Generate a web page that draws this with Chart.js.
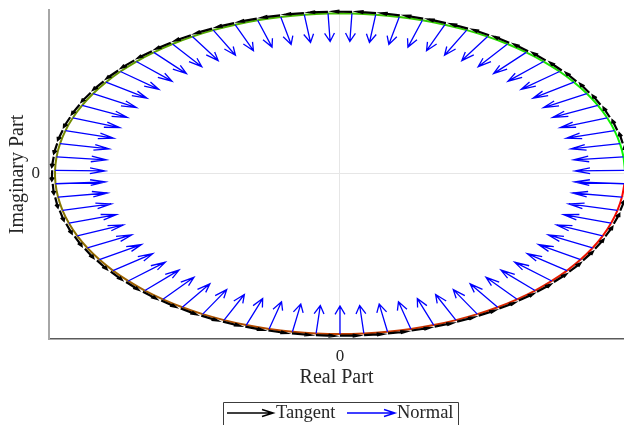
<!DOCTYPE html>
<html>
<head>
<meta charset="utf-8">
<script src="https://cdn.jsdelivr.net/npm/chart.js@4/dist/chart.umd.min.js"></script>
<style>
html,body{margin:0;padding:0;background:#fff;overflow:hidden}
canvas{display:block}
</style>
</head>
<body>
<canvas id="c" width="624" height="425"></canvas>
<script>
// ---- data (curve sample points in the complex plane) ----
const realPart = [
  0.9998, 0.9945, 0.9823, 0.9632, 0.9373, 0.9048, 0.8660, 0.8211, 0.7705, 0.7145,
  0.6534, 0.5878, 0.5180, 0.4446, 0.3681, 0.2890, 0.2079, 0.1253, 0.0419,
  -0.0419, -0.1253, -0.2079, -0.2890, -0.3681, -0.4446, -0.5180, -0.5878, -0.6534, -0.7145,
  -0.7705, -0.8211, -0.8660, -0.9048, -0.9373, -0.9632, -0.9823, -0.9945, -0.9998,
  -0.9980, -0.9893, -0.9736, -0.9511, -0.9219, -0.8862, -0.8443, -0.7965, -0.7431, -0.6845,
  -0.6211, -0.5534, -0.4818, -0.4067, -0.3289, -0.2487, -0.1668, -0.0837, 0,
  0.0837, 0.1668, 0.2487, 0.3289, 0.4067, 0.4818, 0.5534, 0.6211, 0.6845,
  0.7431, 0.7965, 0.8443, 0.8862, 0.9219, 0.9511, 0.9736, 0.9893, 0.9980
];
const imagPart = [
  0.0209, 0.1045, 0.1874, 0.2689, 0.3486, 0.4258, 0.5000, 0.5707, 0.6374, 0.6997,
  0.7570, 0.8090, 0.8554, 0.8957, 0.9298, 0.9573, 0.9781, 0.9921, 0.9991,
  0.9991, 0.9921, 0.9781, 0.9573, 0.9298, 0.8957, 0.8554, 0.8090, 0.7570, 0.6997,
  0.6374, 0.5707, 0.5000, 0.4258, 0.3486, 0.2689, 0.1874, 0.1045, 0.0209,
  -0.0628, -0.1461, -0.2284, -0.3090, -0.3875, -0.4633, -0.5358, -0.6046, -0.6691, -0.7290,
  -0.7837, -0.8329, -0.8763, -0.9135, -0.9444, -0.9686, -0.9860, -0.9965, -1,
  -0.9965, -0.9860, -0.9686, -0.9444, -0.9135, -0.8763, -0.8329, -0.7837, -0.7290,
  -0.6691, -0.6046, -0.5358, -0.4633, -0.3875, -0.3090, -0.2284, -0.1461, -0.0628
];
const xTickLabels = ['0'];
const yTickLabels = ['0'];
const legendLabels = ['Tangent', 'Normal'];
const normalLength = 0.175;   // arrow length (data units)
const tangentLength = 0.063;  // arrow length (data units)
const tangentRadius = 1.01;   // tangent arrows sit just outside the curve

// ---- styling ----
const FONT = "'Liberation Serif', 'Times New Roman', serif";
const TEXT = '#262626';

function arrowPath(ctx, X, Y, x0, y0, u, v, alpha, beta) {
  const x1 = x0 + u, y1 = y0 + v;
  const hx1 = x1 - alpha * (u + beta * v), hy1 = y1 - alpha * (v - beta * u);
  const hx2 = x1 - alpha * (u - beta * v), hy2 = y1 - alpha * (v + beta * u);
  ctx.moveTo(X(x0), Y(y0));
  ctx.lineTo(X(x1), Y(y1));
  ctx.moveTo(X(hx1), Y(hy1));
  ctx.lineTo(X(x1), Y(y1));
  ctx.lineTo(X(hx2), Y(hy2));
}

const arrowsPlugin = {
  id: 'arrows',
  afterDatasetsDraw(chart) {
    const {ctx, chartArea: a} = chart;
    const sx = chart.scales.x, sy = chart.scales.y;
    const X = v => sx.getPixelForValue(v), Y = v => sy.getPixelForValue(v);
    ctx.save();
    ctx.beginPath();
    ctx.rect(a.left, a.top - 3, a.right - a.left, a.bottom - a.top + 3);
    ctx.clip();
    // tangent arrows (counter-clockwise)
    ctx.beginPath();
    realPart.forEach((re, i) => {
      const im = imagPart[i];
      const r = Math.hypot(re, im);
      arrowPath(ctx, X, Y, re * tangentRadius, im * tangentRadius,
        -im / r * tangentLength, re / r * tangentLength, 0.3, 0.33);
    });
    ctx.strokeStyle = '#000000';
    ctx.lineWidth = 2.2;
    ctx.lineJoin = 'miter';
    ctx.stroke();
    // normal arrows (inward)
    ctx.beginPath();
    realPart.forEach((re, i) => {
      const im = imagPart[i];
      const r = Math.hypot(re, im);
      arrowPath(ctx, X, Y, re, im, -re / r * normalLength, -im / r * normalLength, 0.3, 0.33);
    });
    ctx.strokeStyle = '#0000ff';
    ctx.lineWidth = 1.3;
    ctx.stroke();
    ctx.restore();
  },
  afterDraw(chart) {
    const ctx = chart.ctx;
    ctx.save();
    // legend box
    ctx.strokeStyle = '#3c3c3c';
    ctx.lineWidth = 1;
    ctx.fillStyle = '#ffffff';
    ctx.beginPath();
    ctx.rect(223.5, 402.5, 235, 30);
    ctx.fill();
    ctx.stroke();
    const drawKey = (x0, x1, y, color, lw) => {
      ctx.beginPath();
      ctx.moveTo(x0, y); ctx.lineTo(x1, y);
      ctx.moveTo(x1 - 11, y - 3.5); ctx.lineTo(x1, y); ctx.lineTo(x1 - 11, y + 3.5);
      ctx.strokeStyle = color; ctx.lineWidth = lw; ctx.stroke();
    };
    drawKey(227, 273, 413, '#000000', 1.6);
    drawKey(347, 395, 413, '#0000ff', 1.4);
    ctx.fillStyle = TEXT;
    ctx.font = "18.5px " + FONT;
    ctx.textBaseline = 'alphabetic';
    ctx.textAlign = 'left';
    ctx.fillText(legendLabels[0], 276, 418);
    ctx.fillText(legendLabels[1], 397, 418);
    ctx.restore();
  }
};

const pts = realPart.map((x, i) => ({x: x, y: imagPart[i]}));
const n = realPart.length;
function gradColor(f) {
  const r = Math.round(255 * f), g = Math.round(255 * (1 - f));
  return 'rgb(' + r + ',' + g + ',0)';
}

new Chart(document.getElementById('c'), {
  type: 'scatter',
  data: {
    datasets: [{
      data: pts,
      showLine: true,
      pointRadius: 0,
      borderWidth: 2,
      tension: 0.3,
      borderColor: gradColor(0.5),
      segment: {
        borderColor: c => gradColor((c.p0DataIndex + 0.75) / n)
      }
    }]
  },
  options: {
    responsive: false,
    animation: false,
    events: [],
    layout: {padding: {left: 0, right: 0, top: 10, bottom: 0}},
    plugins: {legend: {display: false}, tooltip: {enabled: false}},
    scales: {
      x: {
        type: 'linear',
        min: -1.021,
        max: 0.9965,
        afterBuildTicks: s => { s.ticks = [{value: 0}]; },
        afterFit: s => { s.height = 86; s.paddingLeft = 0; s.paddingRight = 0; },
        ticks: {
          callback: (v, i) => xTickLabels[i],
          font: {family: FONT, size: 17},
          color: TEXT,
          padding: 7,
          maxRotation: 0
        },
        grid: {color: '#e6e6e6', lineWidth: 1, drawTicks: false},
        border: {color: '#5a5a5a', width: 1.5},
        title: {
          display: true, text: 'Real Part',
          font: {family: FONT, size: 20}, color: TEXT,
          padding: {top: 0, bottom: 35.5}
        }
      },
      y: {
        type: 'linear',
        min: -1.0312,
        max: 1.0212,
        afterBuildTicks: s => { s.ticks = [{value: 0}]; },
        afterFit: s => { s.width = 49; s.paddingTop = 0; s.paddingBottom = 0; },
        ticks: {
          callback: (v, i) => yTickLabels[i],
          font: {family: FONT, size: 17},
          color: TEXT,
          padding: 9
        },
        grid: {color: '#e6e6e6', lineWidth: 1, drawTicks: false},
        border: {color: '#a6a6a6', width: 2},
        title: {
          display: true, text: 'Imaginary Part',
          font: {family: FONT, size: 20}, color: TEXT,
          padding: {top: 6, bottom: 0}
        }
      }
    }
  },
  plugins: [arrowsPlugin]
});
</script>
</body>
</html>
